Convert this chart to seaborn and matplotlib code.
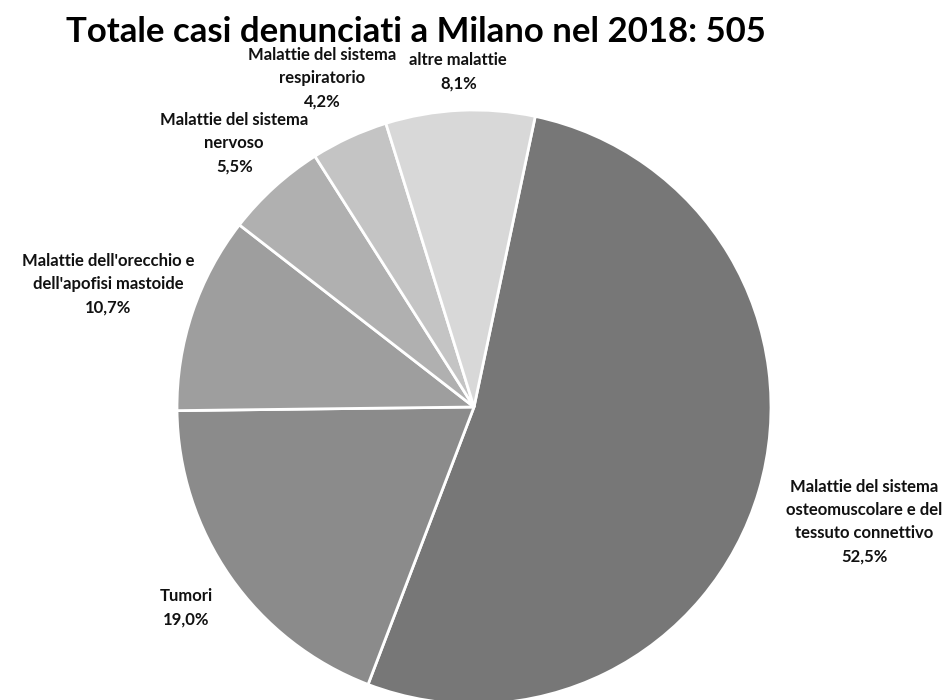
import numpy as np
import seaborn as sns
import matplotlib.pyplot as plt

# dati (percentuali)
categorie = [
    "Malattie del sistema\nosteomuscolare e del\ntessuto connettivo",
    "Tumori",
    "Malattie dell'orecchio e\ndell'apofisi mastoide",
    "Malattie del sistema\nnervoso",
    "Malattie del sistema\nrespiratorio",
    "altre malattie",
]
percentuali = [52.5, 19.0, 10.7, 5.5, 4.2, 8.1]
colori = ["#777777", "#8b8b8b", "#9e9e9e", "#b0b0b0", "#c4c4c4", "#d8d8d8"]
distanze = [1.37, 1.18, 1.30, 1.20, 1.22, 1.13]
titolo = "Totale casi denunciati a Milano nel 2018: 505"

sns.set_theme(style="white")
plt.rcParams['font.family'] = ['Lato', 'DejaVu Sans']

fig = plt.figure(figsize=(9.52, 7), dpi=100)
ax = fig.add_axes([0, 0, 1, 1])

wedges, _ = ax.pie(percentuali, colors=colori, startangle=78.1, counterclock=False,
                   wedgeprops=dict(edgecolor="white", linewidth=2))

for w, cat, p, d in zip(wedges, categorie, percentuali, distanze):
    ang = np.deg2rad((w.theta1 + w.theta2) / 2)
    testo = cat + "\n" + f"{p:.1f}".replace(".", ",") + "%"
    ax.text(d * np.cos(ang), d * np.sin(ang), testo, ha="center", va="center",
            fontsize=12, fontweight="bold", color="#111111", linespacing=1.55)

ax.set_xlim(-474 / 297, (952 - 474) / 297)
ax.set_ylim(-(700 - 407) / 297, 407 / 297)
ax.set_aspect("auto")
ax.axis("off")

fig.text(0.437, 0.955, titolo, ha="center", va="center", fontsize=25,
         fontweight="bold", color="black")

fig.savefig("out.png", dpi=100)
